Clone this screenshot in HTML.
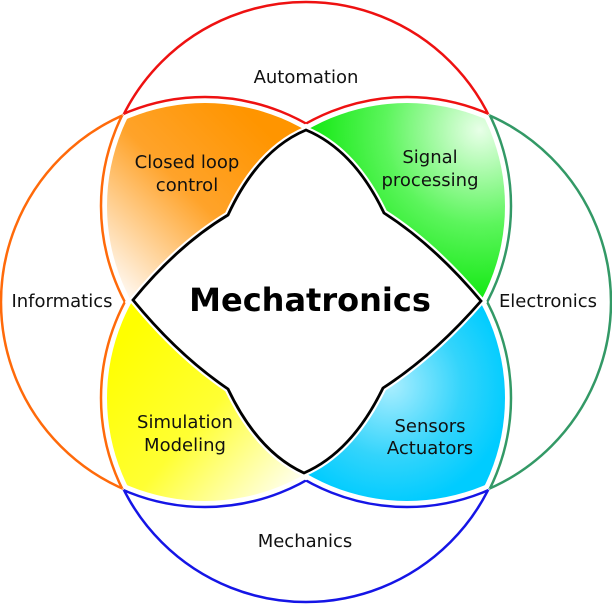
<!DOCTYPE html>
<html><head><meta charset="utf-8"><style>
html,body{margin:0;padding:0;background:#fff;width:612px;height:604px;overflow:hidden}
svg{display:block}
text{font-family:"DejaVu Sans","Liberation Sans",sans-serif;fill:#111}
</style></head><body>
<svg width="612" height="604" viewBox="0 0 612 604">
<defs>
<clipPath id="cT"><circle cx="306" cy="206" r="204"/></clipPath>
<clipPath id="cB"><circle cx="306" cy="398" r="204"/></clipPath>
<clipPath id="cL"><circle cx="205" cy="302" r="204"/></clipPath>
<clipPath id="cR"><circle cx="407" cy="302" r="204"/></clipPath>
<clipPath id="sT"><circle cx="306" cy="206" r="199"/></clipPath>
<clipPath id="sB"><circle cx="306" cy="398" r="199"/></clipPath>
<mask id="oL" maskUnits="userSpaceOnUse" x="0" y="0" width="612" height="604"><rect width="612" height="604" fill="#fff"/><circle cx="205" cy="302" r="205" fill="#000"/></mask>
<mask id="oR" maskUnits="userSpaceOnUse" x="0" y="0" width="612" height="604"><rect width="612" height="604" fill="#fff"/><circle cx="407" cy="302" r="205" fill="#000"/></mask>
<mask id="oT" maskUnits="userSpaceOnUse" x="0" y="0" width="612" height="604"><rect width="612" height="604" fill="#fff"/><circle cx="306" cy="206" r="205" fill="#000"/></mask>
<mask id="oB" maskUnits="userSpaceOnUse" x="0" y="0" width="612" height="604"><rect width="612" height="604" fill="#fff"/><circle cx="306" cy="398" r="205" fill="#000"/></mask>
<mask id="oLR" maskUnits="userSpaceOnUse" x="0" y="0" width="612" height="604"><rect width="612" height="604" fill="#fff"/><circle cx="205" cy="302" r="205" fill="#000"/><circle cx="407" cy="302" r="205" fill="#000"/></mask>
<mask id="oTB" maskUnits="userSpaceOnUse" x="0" y="0" width="612" height="604"><rect width="612" height="604" fill="#fff"/><circle cx="306" cy="206" r="205" fill="#000"/><circle cx="306" cy="398" r="205" fill="#000"/></mask>
<clipPath id="qTL"><rect x="0" y="0" width="306" height="301"/></clipPath>
<clipPath id="qTR"><rect x="306" y="0" width="306" height="301"/></clipPath>
<clipPath id="qBL"><rect x="0" y="301" width="306" height="303"/></clipPath>
<clipPath id="qBR"><rect x="306" y="301" width="306" height="303"/></clipPath>
<linearGradient id="gO" gradientUnits="userSpaceOnUse" x1="270" y1="135" x2="120" y2="290">
<stop offset="0" stop-color="#ff9500"/><stop offset="0.45" stop-color="#ffa32a"/><stop offset="1" stop-color="#fff8f0"/></linearGradient>
<radialGradient id="gG" gradientUnits="userSpaceOnUse" cx="480" cy="130" r="190">
<stop offset="0" stop-color="#e8ffe8"/><stop offset="0.5" stop-color="#5cf55c"/><stop offset="1" stop-color="#00e600"/></radialGradient>
<linearGradient id="gY" gradientUnits="userSpaceOnUse" x1="130" y1="330" x2="300" y2="480">
<stop offset="0" stop-color="#ffff00"/><stop offset="0.5" stop-color="#ffff33"/><stop offset="1" stop-color="#ffffee"/></linearGradient>
<radialGradient id="gC" gradientUnits="userSpaceOnUse" cx="390" cy="385" r="120">
<stop offset="0" stop-color="#aaeeff"/><stop offset="0.6" stop-color="#33d4fb"/><stop offset="1" stop-color="#00ccff"/></radialGradient>
</defs>
<g fill="none" stroke-width="2.5">
<g stroke="#ee1111">
<circle cx="306" cy="206" r="204" mask="url(#oLR)"/>
<g clip-path="url(#cT)"><circle cx="205" cy="302" r="205" mask="url(#oR)"/></g>
<g clip-path="url(#cT)"><circle cx="407" cy="302" r="205" mask="url(#oL)"/></g>
</g>
<g stroke="#1515e6">
<circle cx="306" cy="398" r="204" mask="url(#oLR)"/>
<g clip-path="url(#cB)"><circle cx="205" cy="302" r="205" mask="url(#oR)"/></g>
<g clip-path="url(#cB)"><circle cx="407" cy="302" r="205" mask="url(#oL)"/></g>
</g>
<g stroke="#ff6a0a">
<circle cx="205" cy="302" r="204" mask="url(#oTB)"/>
<g clip-path="url(#cL)"><circle cx="306" cy="206" r="205" mask="url(#oB)"/></g>
<g clip-path="url(#cL)"><circle cx="306" cy="398" r="205" mask="url(#oT)"/></g>
</g>
<g stroke="#339966">
<circle cx="407" cy="302" r="204" mask="url(#oTB)"/>
<g clip-path="url(#cR)"><circle cx="306" cy="206" r="205" mask="url(#oB)"/></g>
<g clip-path="url(#cR)"><circle cx="306" cy="398" r="205" mask="url(#oT)"/></g>
</g>
</g>
<g clip-path="url(#qTL)"><g clip-path="url(#sT)"><circle cx="205" cy="302" r="199" fill="url(#gO)"/></g></g>
<g clip-path="url(#qTR)"><g clip-path="url(#sT)"><circle cx="407" cy="302" r="199" fill="url(#gG)"/></g></g>
<g clip-path="url(#qBL)"><g clip-path="url(#sB)"><circle cx="205" cy="302" r="199" fill="url(#gY)"/></g></g>
<g clip-path="url(#qBR)"><g clip-path="url(#sB)"><circle cx="407" cy="302" r="199" fill="url(#gC)"/></g></g>
<path d="M306,130 Q258,150 228,215 Q178,245 133,300 Q178,355 228,389 Q258,452 304,473 Q352,452 383,388 Q434,355 481,301 Q434,245 384,213 Q354,150 306,130 Z" fill="#fff" stroke="#fff" stroke-width="7"/>
<path d="M306,130 Q258,150 228,215 Q178,245 133,300 Q178,355 228,389 Q258,452 304,473 Q352,452 383,388 Q434,355 481,301 Q434,245 384,213 Q354,150 306,130 Z" fill="#fff" stroke="#000" stroke-width="2.8"/>
<text x="310" y="311" font-size="32" font-weight="bold" text-anchor="middle" style="fill:#000">Mechatronics</text>
<g font-size="18" text-anchor="middle">
<text x="306" y="83">Automation</text>
<text x="62" y="307">Informatics</text>
<text x="548" y="307">Electronics</text>
<text x="305" y="547">Mechanics</text>
<text x="187" y="168">Closed loop</text>
<text x="187" y="191">control</text>
<text x="430" y="163">Signal</text>
<text x="430" y="186">processing</text>
<text x="185" y="428">Simulation</text>
<text x="185" y="451">Modeling</text>
<text x="430" y="432">Sensors</text>
<text x="430" y="454">Actuators</text>
</g>
</svg>
</body></html>
